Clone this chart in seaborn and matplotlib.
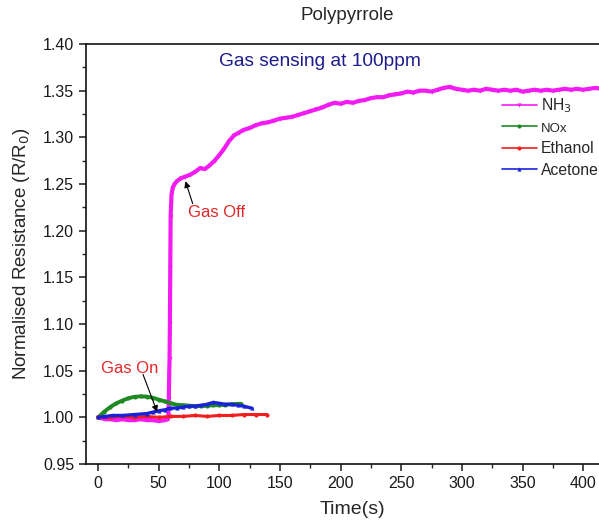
import matplotlib
matplotlib.use("Agg")
import matplotlib.pyplot as plt
import seaborn as sns
import pandas as pd
from matplotlib.ticker import MultipleLocator, FormatStrFormatter

sns.set_style("ticks")
plt.rcParams['font.family'] = ['Liberation Sans', 'DejaVu Sans']

# ---------------- data ----------------
nh3_t = [0, 3, 6, 10, 15, 20, 25, 30, 35, 40, 45, 50, 55, 57.5, 58.0, 58.3, 58.6, 58.9, 59.2, 59.5, 59.8,
         60.5, 61.5, 63, 65, 68, 72, 76, 80, 84, 88, 92, 96, 100, 104, 108, 112, 116, 120, 125, 130, 135,
         140, 145, 150, 155, 160, 165, 170, 175, 180, 185, 190, 195, 200, 205, 210, 215, 220, 225, 230,
         235, 240, 245, 250, 255, 260, 265, 270, 275, 280, 285, 290, 295, 300, 305, 310, 315, 320, 325,
         330, 335, 340, 345, 350, 355, 360, 365, 370, 375, 380, 385, 390, 395, 400, 405, 410, 415, 420]
nh3_r = [1.000, 0.999, 0.998, 0.998, 0.997, 0.998, 0.997, 0.997, 0.998, 0.997, 0.997, 0.996, 0.997, 0.998,
         1.003, 1.020, 1.045, 1.062, 1.100, 1.160, 1.215,
         1.238, 1.246, 1.250, 1.253, 1.256, 1.258, 1.260, 1.263, 1.267, 1.266, 1.270, 1.275, 1.281, 1.288,
         1.296, 1.302, 1.305, 1.308, 1.310, 1.313, 1.315, 1.316, 1.318, 1.320, 1.321, 1.322, 1.324, 1.326,
         1.328, 1.330, 1.332, 1.335, 1.337, 1.336, 1.338, 1.337, 1.339, 1.340, 1.342, 1.343, 1.343, 1.345,
         1.346, 1.347, 1.349, 1.348, 1.350, 1.350, 1.349, 1.351, 1.353, 1.354, 1.352, 1.351, 1.350, 1.351,
         1.350, 1.352, 1.351, 1.350, 1.351, 1.350, 1.351, 1.349, 1.350, 1.351, 1.350, 1.351, 1.350, 1.351,
         1.352, 1.351, 1.352, 1.351, 1.352, 1.353, 1.352, 1.353]

nox_t = [0, 5, 10, 15, 20, 25, 30, 35, 40, 45, 50, 55, 60, 65, 70, 75, 80, 85, 90, 95, 100, 105, 110, 115, 118]
nox_r = [1.000, 1.006, 1.011, 1.015, 1.018, 1.0205, 1.022, 1.0225, 1.0222, 1.021, 1.019, 1.017, 1.015,
         1.0135, 1.013, 1.0125, 1.012, 1.012, 1.0125, 1.013, 1.013, 1.0135, 1.014, 1.0145, 1.0145]

eth_t = [0, 10, 20, 30, 40, 50, 60, 70, 80, 90, 100, 110, 120, 130, 139]
eth_r = [1.000, 1.000, 1.001, 1.000, 1.001, 1.000, 1.001, 1.001, 1.002, 1.001, 1.002, 1.002, 1.003, 1.003, 1.003]

ace_t = [0, 6, 12, 20, 30, 40, 45, 50, 55, 59, 65, 70, 75, 80, 85, 90, 95, 100, 105, 110, 115, 120, 127]
ace_r = [1.000, 1.001, 1.002, 1.002, 1.003, 1.004, 1.0055, 1.007, 1.008, 1.0097, 1.010, 1.011, 1.012,
         1.012, 1.013, 1.014, 1.016, 1.015, 1.014, 1.014, 1.013, 1.012, 1.0097]

labels = ['NH$_3$', 'NOx', 'Ethanol', 'Acetone']
colors = ['#f21cf2', '#1f8a24', '#f01e1e', '#1a22d8']
xticks = [0, 50, 100, 150, 200, 250, 300, 350, 400]
yticks = [0.95, 1.00, 1.05, 1.10, 1.15, 1.20, 1.25, 1.30, 1.35, 1.40]

# ---------------- figure ----------------
fig = plt.figure(figsize=(5.99, 5.28), dpi=100)
ax = fig.add_axes([86/599, 1 - 464/528, 533.5/599, 420/528])

series = [(nh3_t, nh3_r), (nox_t, nox_r), (eth_t, eth_r), (ace_t, ace_r)]
markers = ['v', 'o', 'o', '^']
widths = [3.0, 2.8, 2.2, 2.4]
for (t, r), lab, c, m, w in zip(series, labels, colors, markers, widths):
    df = pd.DataFrame({'t': t, 'r': r})
    sns.lineplot(data=df, x='t', y='r', ax=ax, color=c, linewidth=w, label=lab,
                 marker=m, markersize=3, markeredgewidth=0, sort=False, estimator=None)

ax.set_xlim(-10, 430)
ax.set_ylim(0.95, 1.40)
ax.set_xticks(xticks)
ax.set_yticks(yticks)
ax.xaxis.set_minor_locator(MultipleLocator(25))
ax.yaxis.set_minor_locator(MultipleLocator(0.025))
ax.yaxis.set_major_formatter(FormatStrFormatter('%.2f'))
ax.tick_params(axis='both', which='major', direction='out', length=5, width=1.1, labelsize=11.5, colors='#1a1a1a')
ax.tick_params(axis='both', which='minor', direction='out', length=3, width=1.0)
for s in ['left', 'bottom', 'top']:
    ax.spines[s].set_visible(True)
    ax.spines[s].set_linewidth(1.2)
    ax.spines[s].set_color('#111111')
ax.spines['right'].set_visible(False)

ax.set_xlabel('Time(s)', fontsize=14, labelpad=7)
ax.set_ylabel('Normalised Resistance (R/R$_0$)', fontsize=13.5, labelpad=8)

fig.text(347/599, 1 - 15/528, 'Polypyrrole', ha='center', va='center', fontsize=13.5)

ax.text(183, 1.381, 'Gas sensing at 100ppm', color='#1c1c8c', fontsize=13.8, ha='center', va='center')

ax.text(26, 1.052, 'Gas On', color='#e02828', fontsize=12, ha='center', va='center')
ax.annotate('', xy=(48.7, 1.0058), xytext=(37, 1.046),
            arrowprops=dict(arrowstyle='-|>', color='black', lw=0.8, mutation_scale=9, shrinkA=0, shrinkB=0))
ax.text(98, 1.219, 'Gas Off', color='#e02828', fontsize=12, ha='center', va='center')
ax.annotate('', xy=(72, 1.253), xytext=(78, 1.229),
            arrowprops=dict(arrowstyle='-|>', color='black', lw=0.8, mutation_scale=9, shrinkA=0, shrinkB=0))

leg = ax.legend(loc='upper left', bbox_to_anchor=(502/599, 1 - 96/528), bbox_transform=fig.transFigure,
                frameon=False, fontsize=11.3, handlelength=2.2, handletextpad=0.3, labelspacing=0.4,
                borderpad=0, borderaxespad=0)
for line in leg.get_lines():
    line.set_linewidth(1.2)
leg.get_texts()[1].set_fontsize(9.5)

fig.savefig('out.png', dpi=100)
